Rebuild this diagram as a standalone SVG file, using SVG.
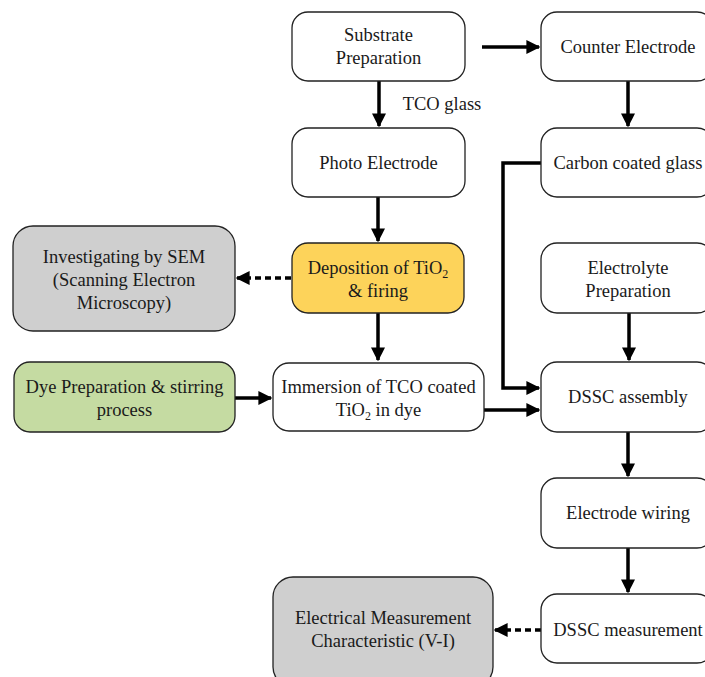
<svg xmlns="http://www.w3.org/2000/svg" width="705" height="677" viewBox="0 0 705 677">
<defs>
<style>
.box{stroke:#222;stroke-width:1.3;}
.w{fill:#fff;}
.y{fill:#FDD35A;}
.g{fill:#C5DBA2;}
.gr{fill:#CFCFCF;}
text{font-family:"Liberation Serif","Times New Roman",serif;font-size:18.5px;fill:#1a1a1a;text-anchor:middle;}
.c{stroke:#000;stroke-width:3.5;fill:none;}
.d{stroke:#000;stroke-width:3.5;fill:none;stroke-dasharray:6,4;}
</style>
<marker id="ah" viewBox="0 0 10 10" refX="9" refY="5" markerWidth="4" markerHeight="4" markerUnits="strokeWidth" orient="auto">
<path d="M0,0 L10,5 L0,10 z" fill="#000"/>
</marker>
</defs>
<rect width="705" height="677" fill="#fff"/>
<g id="connectors">
<line class="c" x1="482" y1="47" x2="539" y2="47" marker-end="url(#ah)"/>
<line class="c" x1="379" y1="81" x2="379" y2="126" marker-end="url(#ah)"/>
<line class="c" x1="628" y1="81" x2="628" y2="126" marker-end="url(#ah)"/>
<line class="c" x1="378" y1="197" x2="378" y2="241" marker-end="url(#ah)"/>
<line class="d" x1="291" y1="278" x2="237" y2="278" marker-end="url(#ah)"/>
<line class="c" x1="378" y1="313" x2="378" y2="360" marker-end="url(#ah)"/>
<line class="c" x1="235" y1="398" x2="271" y2="398" marker-end="url(#ah)"/>
<polyline class="c" points="541,163 503,163 503,388 539,388" marker-end="url(#ah)"/>
<line class="c" x1="484" y1="410" x2="539" y2="410" marker-end="url(#ah)"/>
<line class="c" x1="629" y1="313" x2="629" y2="360" marker-end="url(#ah)"/>
<line class="c" x1="628" y1="432" x2="628" y2="476" marker-end="url(#ah)"/>
<line class="c" x1="628" y1="548" x2="628" y2="592" marker-end="url(#ah)"/>
<line class="d" x1="541" y1="630" x2="495" y2="630" marker-end="url(#ah)"/>
<text x="442" y="110">TCO glass</text>
</g>
<g id="substrate">
<rect class="box w" x="292" y="12" width="173" height="69" rx="16"/>
<text x="378.5" y="41">Substrate</text>
<text x="378.5" y="64">Preparation</text>
</g>
<g id="counter">
<rect class="box w" x="541" y="12" width="172" height="69" rx="16"/>
<text x="628" y="53">Counter Electrode</text>
</g>
<g id="photo">
<rect class="box w" x="292" y="128" width="173" height="69" rx="16"/>
<text x="378.5" y="169">Photo Electrode</text>
</g>
<g id="carbon">
<rect class="box w" x="541" y="128" width="172" height="69" rx="16"/>
<text x="628" y="169">Carbon coated glass</text>
</g>
<g id="sem">
<rect class="box gr" x="13" y="226" width="222" height="105" rx="20"/>
<text x="124" y="263">Investigating by SEM</text>
<text x="124" y="286">(Scanning Electron</text>
<text x="124" y="309">Microscopy)</text>
</g>
<g id="deposition">
<rect class="box y" x="292" y="243" width="172" height="70" rx="16"/>
<text x="378" y="274">Deposition of TiO<tspan font-size="12" dy="4">2</tspan></text>
<text x="378" y="297">&amp; firing</text>
</g>
<g id="electrolyte">
<rect class="box w" x="541" y="243" width="172" height="70" rx="16"/>
<text x="628" y="274">Electrolyte</text>
<text x="628" y="297">Preparation</text>
</g>
<g id="dye">
<rect class="box g" x="14" y="362" width="221" height="70" rx="16"/>
<text x="124.5" y="393">Dye Preparation &amp; stirring</text>
<text x="124.5" y="416">process</text>
</g>
<g id="immersion">
<rect class="box w" x="273" y="363" width="211" height="68" rx="16"/>
<text x="378.5" y="393">Immersion of TCO coated</text>
<text x="378.5" y="416">TiO<tspan font-size="12" dy="4">2</tspan><tspan dy="-4"> in dye</tspan></text>
</g>
<g id="assembly">
<rect class="box w" x="541" y="362" width="172" height="70" rx="16"/>
<text x="628" y="403">DSSC assembly</text>
</g>
<g id="wiring">
<rect class="box w" x="541" y="478" width="172" height="70" rx="16"/>
<text x="628" y="519">Electrode wiring</text>
</g>
<g id="measurement">
<rect class="box w" x="541" y="594" width="172" height="69" rx="16"/>
<text x="628" y="636">DSSC measurement</text>
</g>
<g id="electrical">
<rect class="box gr" x="273" y="577" width="220" height="110" rx="20"/>
<text x="383" y="624">Electrical Measurement</text>
<text x="383" y="647">Characteristic (V-I)</text>
</g>
</svg>
